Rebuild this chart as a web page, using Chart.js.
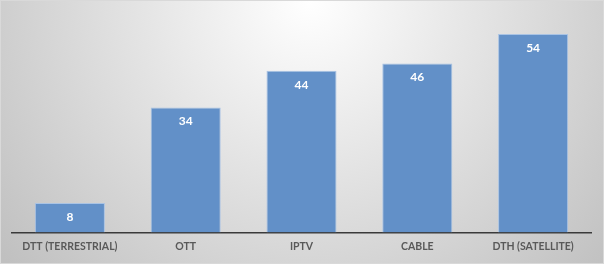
<!DOCTYPE html>
<html>
<head>
<meta charset="utf-8">
<script src="https://cdn.jsdelivr.net/npm/chart.js@4"></script>
<style>
html,body{margin:0;padding:0;background:#fff;}
#wrap{width:604px;height:264px;position:relative;}
</style>
</head>
<body>
<div id="wrap"><canvas id="c" width="604" height="264"></canvas></div>
<script>
const categories = ["DTT (TERRESTRIAL)", "OTT", "IPTV", "CABLE", "DTH (SATELLITE)"];
const values = [8, 34, 44, 46, 54];

const bgPlugin = {
  id: 'bg',
  beforeDraw(chart) {
    const ctx = chart.ctx;
    const w = chart.width, h = chart.height;
    ctx.save();
    const g = ctx.createRadialGradient(310, 0, 0, 310, 0, 400);
    g.addColorStop(0, '#ffffff');
    g.addColorStop(1, '#c0c0c0');
    ctx.fillStyle = g;
    ctx.fillRect(0, 0, w, h);
    ctx.strokeStyle = '#d9d9d9';
    ctx.lineWidth = 1;
    ctx.strokeRect(0.5, 0.5, w - 1, h - 1);
    ctx.restore();
  }
};

const labelPlugin = {
  id: 'vals',
  afterDatasetsDraw(chart) {
    const ctx = chart.ctx;
    const meta = chart.getDatasetMeta(0);
    ctx.save();
    ctx.fillStyle = '#ffffff';
    ctx.font = 'bold 12px Lato';
    ctx.textAlign = 'center';
    ctx.textBaseline = 'middle';
    meta.data.forEach((bar, i) => {
      ctx.fillText(String(chart.data.datasets[0].data[i]), bar.x, bar.y + 14);
    });
    ctx.restore();
  }
};

new Chart(document.getElementById('c'), {
  type: 'bar',
  data: {
    labels: categories,
    datasets: [{
      data: values,
      backgroundColor: '#6290c8',
      borderColor: '#a9c3e4',
      borderWidth: 1,
      barPercentage: 0.605,
      categoryPercentage: 1
    }]
  },
  options: {
    responsive: false,
    animation: false,
    devicePixelRatio: 1,
    layout: { padding: { top: 12, left: 12, right: 13, bottom: 3 } },
    plugins: { legend: { display: false }, tooltip: { enabled: false } },
    scales: {
      y: { display: false, min: 0, max: 60 },
      x: {
        grid: { display: false, drawTicks: false },
        border: { display: true, color: '#3a3a3a', width: 1.5 },
        ticks: {
          color: '#595959',
          font: { family: 'Lato', weight: 'bold', size: 10.5 },
          padding: 8,
          maxRotation: 0,
          autoSkip: false
        }
      }
    }
  },
  plugins: [bgPlugin, labelPlugin]
});
</script>
</body>
</html>
